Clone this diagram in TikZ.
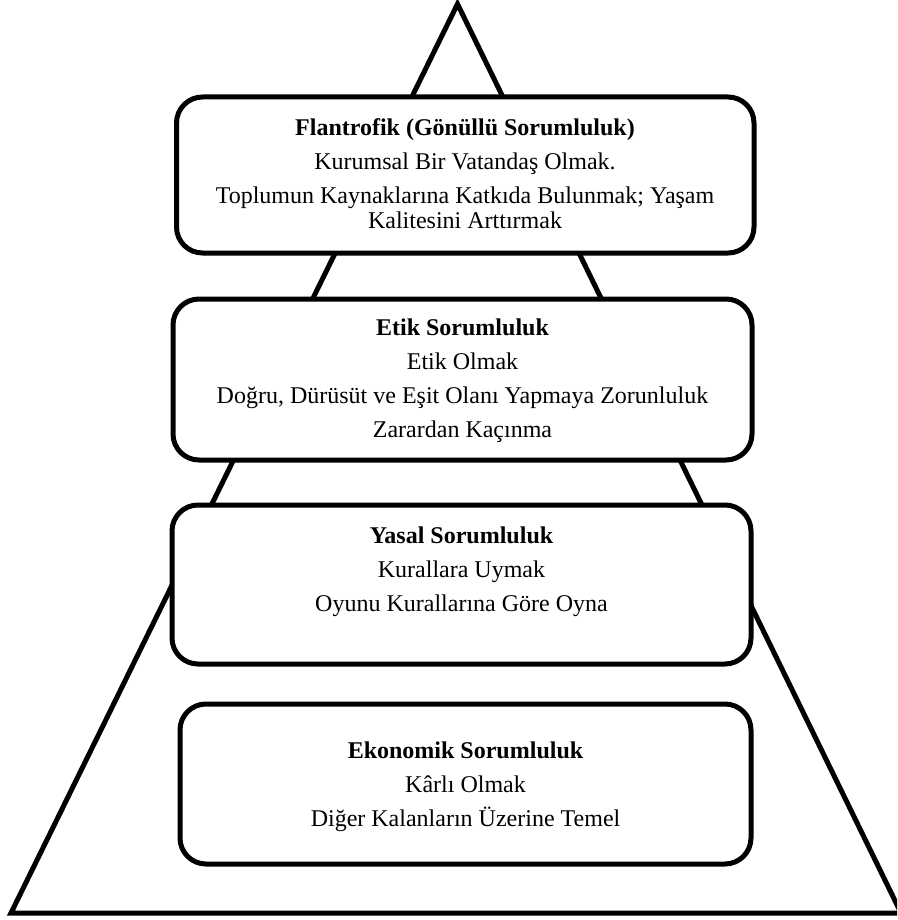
\documentclass[tikz,border=0pt]{standalone}
\usepackage{fontspec}
\setmainfont{Liberation Serif}
\begin{document}
\begin{tikzpicture}[x=1pt,y=-1pt,
  frame/.style={draw=black, line width=5pt, fill=white, rounded corners=26pt, inner sep=0pt},
  edgeline/.style={draw=black, line width=5pt},
  head/.style={anchor=base, inner sep=0pt, font=\fontsize{24}{24}\selectfont\bfseries},
  txt/.style={anchor=base, inner sep=0pt, font=\fontsize{24}{24}\selectfont}]
\useasboundingbox (0,0) rectangle (897,920);
\clip (0,0) rectangle (897,920);

% pyramid outline
\coordinate (apex) at (457.5,4);
\coordinate (baseL) at (11,913);
\coordinate (baseR) at (901,913);
\draw[edgeline] (apex) -- (baseL) -- (baseR) -- cycle;

% levels, top to bottom
\node[frame, minimum width=577.5pt, minimum height=156pt] (b1) at (465.25,175) {};
\node[frame, minimum width=579pt, minimum height=161pt] (b2) at (462.5,379.5) {};
\node[frame, minimum width=579pt, minimum height=159pt] (b3) at (461.5,584.5) {};
\node[frame, minimum width=571pt, minimum height=160pt] (b4) at (465.5,784) {};

% philanthropic level
\node[head] (b1a) at (465,136) {Flantrofik (Gönüllü Sorumluluk)};
\node[txt]  (b1b) at (465,170) {Kurumsal Bir Vatandaş Olmak.};
\node[txt]  (b1c) at (465,204) {Toplumun Kaynaklarına Katkıda Bulunmak; Yaşam};
\node[txt]  (b1d) at (465,228) {Kalitesini Arttırmak};

% ethical level
\node[head] (b2a) at (462.5,335) {Etik Sorumluluk};
\node[txt]  (b2b) at (462.5,369) {Etik Olmak};
\node[txt]  (b2c) at (462.5,403) {Doğru, Dürüsüt ve Eşit Olanı Yapmaya Zorunluluk};
\node[txt]  (b2d) at (462.5,437) {Zarardan Kaçınma};

% legal level
\node[head] (b3a) at (461.5,543) {Yasal Sorumluluk};
\node[txt]  (b3b) at (461.5,577) {Kurallara Uymak};
\node[txt]  (b3c) at (461.5,611) {Oyunu Kurallarına Göre Oyna};

% economic level
\node[head] (b4a) at (465.5,758) {Ekonomik Sorumluluk};
\node[txt]  (b4b) at (465.5,792) {Kârlı Olmak};
\node[txt]  (b4c) at (465.5,826) {Diğer Kalanların Üzerine Temel};
\end{tikzpicture}
\end{document}
